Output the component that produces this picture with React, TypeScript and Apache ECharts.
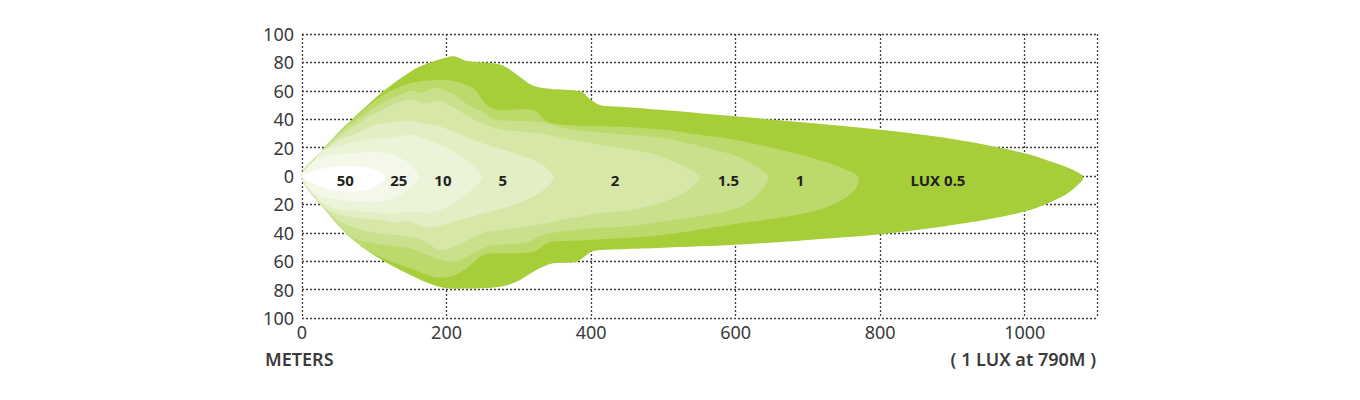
import React, { useEffect, useRef } from "react";
import * as echarts from "echarts";

// ---------- data (meters, lateral meters) ----------
const xTickStep = 200;
const xMax = 1100;
const yMin = -100;
const yMax = 100;
const yStep = 20;

const layerNames = ["0.5", "1", "1.5", "2", "5", "10", "25", "50"];
const layerColors = ["#a6ce39", "#bcd96b", "#c9e08c", "#d6e7a8", "#e2eec4", "#ebf3d8", "#f4f8e9", "#ffffff"];

const lux05Top = [[0,0],[25,16.5],[50,30.5],[83,46.5],[112,59.5],[150,73.5],[175,79.5],[200,83.5],[212,84.2],[228,81],[274,78.5],[297,71.5],[320,63.5],[343,61.5],[385,59.5],[399,54],[412,50],[440,48.8],[500,46.5],[600,42],[700,37.5],[800,32.5],[900,26],[1000,16],[1040,9.5],[1068,4],[1081,-1]];
const lux05Bottom = [[0,0],[34,-25],[66,-42.7],[103,-56.8],[150,-69.7],[182,-76.8],[200,-79],[228,-79.3],[274,-78],[297,-74.4],[315,-69],[329,-65],[348,-61.5],[380,-60.3],[394,-55.6],[403,-52.8],[440,-51.6],[500,-50.5],[600,-48.5],[700,-45],[800,-41],[900,-34.5],[1000,-25],[1050,-15],[1072,-7],[1081,-1]];

const lux1Top = [[0,0],[25,16.3],[50,30],[80,44],[112,57],[150,65.3],[182,67.6],[200,67.6],[214,66.4],[237,61.7],[256,50],[274,46.5],[320,46.5],[339,38.3],[366,36],[440,34.7],[500,32.5],[551,29],[600,25.5],[643,20.7],[690,15],[720,10.5],[750,5],[770,-1]];
const lux1Bottom = [[0,0],[34,-25],[66,-42.7],[103,-55.6],[150,-65],[182,-70.9],[205,-70.9],[228,-65],[251,-55.6],[274,-54.5],[320,-53.3],[339,-47.4],[348,-46.2],[399,-45],[440,-43.9],[500,-41.5],[597,-34],[689,-27],[735,-20],[763,-11],[770,-1]];

const lux15Top = [[0,0],[25,16],[50,29.5],[80,41],[112,52],[135,57],[150,60],[165,58.5],[182,62],[200,60],[214,56],[230,50],[250,45],[265,40],[285,39],[330,38],[370,33],[440,29.5],[500,26.5],[551,21],[597,14.8],[625,8],[640,2.5],[645,-1]];
const lux15Bottom = [[0,0],[34,-25],[66,-42],[95,-47],[120,-49],[150,-51],[175,-56],[200,-60],[215,-60],[235,-55],[255,-50],[280,-48],[310,-47],[330,-42],[360,-39],[412,-36.5],[440,-36],[505,-31.7],[597,-23.5],[629,-14],[643,-4.7],[645,-1]];

const lux2Top = [[0,0],[25,15.5],[50,27.5],[75,36],[100,44],[125,50],[150,54],[170,51],[190,53],[210,48],[230,42],[250,37],[275,33],[330,30],[370,26],[440,19.5],[482,16],[528,7],[545,2],[551,-1]];
const lux2Bottom = [[0,0],[34,-24.5],[60,-34],[90,-39],[120,-41],[150,-43],[170,-46],[190,-52],[210,-50],[230,-45],[250,-40],[275,-38],[320,-35],[370,-30],[412,-26],[440,-25],[490,-20],[528,-12],[545,-5],[551,-1]];

const lux5Top = [[0,0],[25,15],[50,25],[75,30],[100,36],[125,38],[150,39],[170,37],[190,35],[210,31],[230,27],[250,23],[275,19],[300,15],[325,10],[340,5],[348,-1]];
const lux5Bottom = [[0,0],[34,-23],[60,-28],[85,-30],[110,-31],[130,-33],[150,-32],[170,-36],[190,-35],[210,-32],[240,-28],[270,-24],[300,-19],[325,-13],[340,-7],[348,-1]];

const lux10Top = [[0,0],[15,10],[30,18.5],[50,21],[75,24],[100,26],[125,27],[150,29],[170,26],[190,22],[210,17],[230,10],[243,4],[249,-1]];
const lux10Bottom = [[0,0],[20,-15],[40,-22],[60,-24],[85,-25],[110,-26],[135,-26],[150,-25],[175,-26],[200,-22],[220,-16],[238,-8],[249,-1]];

const lux25Top = [[0,0],[12,8],[25,13],[45,15],[70,16],[95,17],[115,16],[135,13],[150,8],[158,3],[161,-1]];
const lux25Bottom = [[0,0],[15,-11],[30,-15],[55,-17],[80,-18],[105,-18],[125,-16],[143,-11],[155,-6],[161,-1]];

const lux50Top = [[0,0],[20,4],[45,6.5],[70,7],[95,5.5],[108,3],[115,-1]];
const lux50Bottom = [[0,0],[20,-6],[45,-10],[70,-11],[95,-9],[108,-5],[115,-1]];

const layerTops = [lux05Top, lux1Top, lux15Top, lux2Top, lux5Top, lux10Top, lux25Top, lux50Top];
const layerBottoms = [lux05Bottom, lux1Bottom, lux15Bottom, lux2Bottom, lux5Bottom, lux10Bottom, lux25Bottom, lux50Bottom];

const labelTexts = ["50", "25", "10", "5", "2", "1.5", "1", "LUX 0.5"];
const labelX = [60, 134, 195, 278, 433, 590, 689, 880];
const labelY = [-2.5, -2.5, -2.5, -2.5, -2.5, -2.5, -2.5, -2.5];

const xTitle = "METERS";
const noteText = "( 1 LUX at 790M )";

function outline(top: number[][], bottom: number[][]) {
  const rev = bottom.slice(1, bottom.length - 1).reverse();
  return top.concat(rev);
}

export default function App() {
  const ref = useRef<HTMLDivElement>(null);
  useEffect(() => {
    if (!ref.current) return;
    const chart = echarts.init(ref.current, undefined, { renderer: "svg" });
    const font = "'Noto Sans', 'Open Sans', sans-serif";
    const gridLine = { type: [2, 2] as any, color: "#3c3c3c", width: 1.3 };

    const layerSeries = layerNames.map((name, i) => {
      const pts = outline(layerTops[i], layerBottoms[i]);
      return {
        type: "custom",
        name: "lux " + name,
        silent: true,
        z: 2 + i,
        data: pts,
        encode: { x: 0, y: 1 },
        renderItem: (params: any, api: any) => {
          if (params.dataIndex !== 0) return null;
          return {
            type: "polygon",
            shape: { points: pts.map((p) => api.coord(p)), smooth: 0.35 },
            style: { fill: layerColors[i], stroke: null },
          };
        },
      };
    });

    const labelData = labelTexts.map((t, i) => [labelX[i], labelY[i]]);
    const labelSeries = {
      type: "custom",
      name: "labels",
      silent: true,
      z: 20,
      data: labelData,
      encode: { x: 0, y: 1 },
      renderItem: (params: any, api: any) => {
        const c = api.coord([api.value(0), api.value(1)]);
        return {
          type: "text",
          x: c[0],
          y: c[1],
          style: {
            text: labelTexts[params.dataIndex],
            fill: "#231f20",
            font: `bold 15px ${font}`,
            align: "center",
            verticalAlign: "middle",
          },
        };
      },
    };

    chart.setOption({
      animation: false,
      grid: { left: 302, right: 263, top: 34, bottom: 82 },
      xAxis: {
        type: "value",
        min: 0,
        max: xMax,
        interval: xTickStep,
        axisLine: { show: false },
        axisTick: { show: false },
        axisLabel: {
          fontSize: 18,
          color: "#3a3a3a",
          fontFamily: font,
          margin: 5,
          formatter: (v: number) => (v > 1000 ? "" : String(v)),
        },
        splitLine: { show: true, lineStyle: gridLine },
      },
      yAxis: {
        type: "value",
        min: yMin,
        max: yMax,
        interval: yStep,
        axisLine: { show: false },
        axisTick: { show: false },
        axisLabel: {
          fontSize: 18,
          color: "#3a3a3a",
          fontFamily: font,
          margin: 8,
          formatter: (v: number) => String(Math.abs(v)),
        },
        splitLine: { show: true, lineStyle: gridLine },
      },
      graphic: [
        {
          type: "text",
          left: 265,
          top: 350,
          style: { text: xTitle, font: `600 18px ${font}`, fill: "#3a3a3a" },
        },
        {
          type: "text",
          right: 264,
          top: 350,
          style: { text: noteText, font: `600 18px ${font}`, fill: "#3a3a3a" },
        },
      ],
      series: [...layerSeries, labelSeries],
    });
    return () => chart.dispose();
  }, []);
  return (
    <div
      ref={ref}
      style={{ position: "fixed", left: 0, top: 0, width: 1360, height: 400, background: "#fff" }}
    />
  );
}
